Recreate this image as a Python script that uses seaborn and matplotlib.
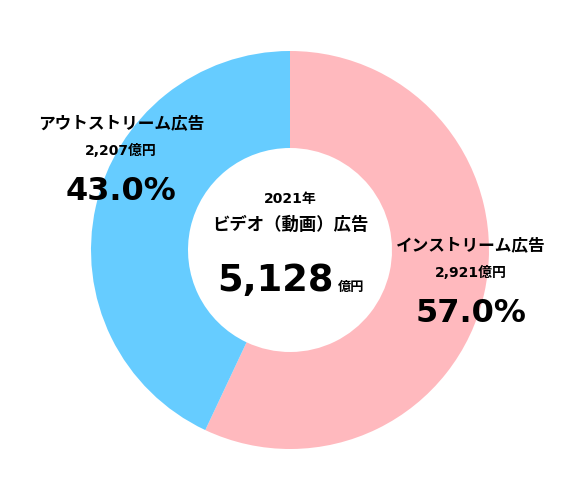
import matplotlib
matplotlib.use("Agg")
import matplotlib.pyplot as plt
import seaborn as sns

sns.set_style("white")
# wide Latin digits first, Japanese glyphs fall back to Noto CJK
plt.rcParams['font.family'] = ['DejaVu Sans', 'Noto Sans CJK JP']

# data
labels = ["インストリーム広告", "アウトストリーム広告"]
amounts = [2921, 2207]
shares = [57.0, 43.0]
colors = ["#FFB9BE", "#66CCFF"]
total = 5128
year_label = "2021年"
title_label = "ビデオ（動画）広告"

fig = plt.figure(figsize=(5.8, 5.0), dpi=100)
ax = fig.add_axes([0, 0, 1, 1])

cx, cy = 290, 250
ax.pie(shares, colors=colors, startangle=90, counterclock=False,
       center=(cx, cy), radius=199, frame=True,
       wedgeprops=dict(width=97, linewidth=0))
ax.set_xlim(0, 580)
ax.set_ylim(0, 500)
ax.set_aspect("equal")
ax.axis("off")

# labels for each segment
pos = {0: (471, 255), 1: (121, 377)}
for i, (name, amt, sh) in enumerate(zip(labels, amounts, shares)):
    x, y = pos[i]
    ax.text(x, y, name, ha="center", va="center", fontsize=12,
            fontweight="bold", color="black")
    ax.text(x, y - 28, f"{amt:,}億円", ha="center", va="center", fontsize=10,
            fontweight="bold", color="black")
    ax.text(x, y - 68, f"{sh:.1f}%", ha="center", va="center", fontsize=23,
            fontweight="bold", color="black")

# center text
ax.text(cx, 301, year_label, ha="center", va="center", fontsize=10,
        fontweight="bold", color="black")
ax.text(cx, 275, title_label, ha="center", va="center", fontsize=12.5,
        fontweight="bold", color="black")
ax.text(cx - 15, 220, f"{total:,}", ha="center", va="center", fontsize=26.5,
        fontweight="bold", color="black")
ax.text(cx + 61, 213, "億円", ha="center", va="center", fontsize=9.5,
        fontweight="bold", color="black")

fig.savefig("out.png", dpi=100)
